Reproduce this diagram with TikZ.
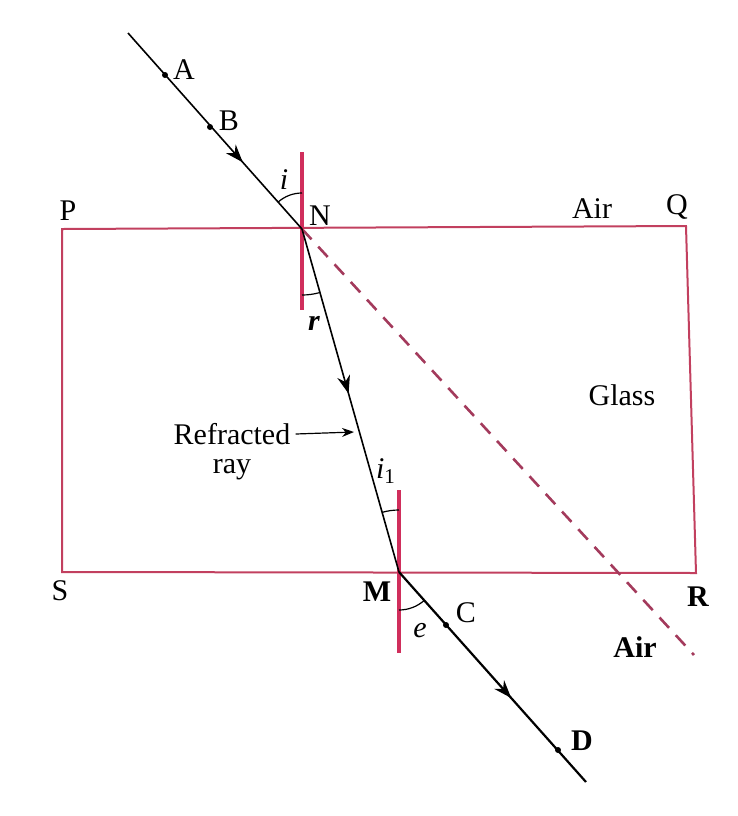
\documentclass[tikz,border=0pt]{standalone}
\usepackage{fontspec}
\setmainfont{Liberation Serif}
\usetikzlibrary{arrows.meta,decorations.markings,angles}
\definecolor{boxred}{HTML}{C2405F}
\definecolor{normred}{HTML}{D02E5C}
\definecolor{dashred}{HTML}{A33A5C}
\begin{document}
\begin{tikzpicture}[x=0.5pt,y=-0.5pt,
  lbl/.style={font=\fontsize{15}{18}\selectfont, inner sep=0pt},
  ray/.style={black, line width=0.8pt},
  normalline/.style={normred, line width=2.4pt},
  midarrow/.style={postaction={decorate}, decoration={markings,
     mark=at position #1 with {\arrow{Stealth[length=9pt,width=6.5pt]}}}},
  dotpt/.style={circle, fill=black, inner sep=0pt, minimum size=3pt},
  anglearc/.style={draw, black, line width=0.6pt}
]
\useasboundingbox (0,0) rectangle (738,816);
% glass slab
\coordinate (P0) at (62,229);
\coordinate (Q0) at (686,226);
\coordinate (R0) at (696,573);
\coordinate (S0) at (62,572);
\draw[boxred, line width=1pt] (P0) -- (Q0) -- (R0) -- (S0) -- cycle;
% key points
\coordinate (Start) at (128,33);
\coordinate (N) at (302,229);
\coordinate (M) at (399,572);
\coordinate (End) at (586,782);
\coordinate (DashEnd) at (694,655);
\coordinate (Ntop) at (302,152);
\coordinate (Nbot) at (302,310);
\coordinate (Mtop) at (399,490);
\coordinate (Mbot) at (399,653);
% dashed continuation
\draw[dashred, line width=1.3pt, dash pattern=on 7pt off 5pt] (N) -- (DashEnd);
% normals
\draw[normalline] (Ntop) -- (Nbot);
\draw[normalline] (Mtop) -- (Mbot);
% rays
\draw[ray, midarrow=0.66] (Start) -- (N);
\draw[ray, midarrow=0.48] (N) -- (M);
\draw[ray, line width=1.1pt, midarrow=0.6] (M) -- (End);
% points on rays
\node[dotpt] (Adot) at (165,75) {};
\node[dotpt] (Bdot) at (210,127) {};
\node[dotpt] (Cdot) at (446,625) {};
\node[dotpt] (Ddot) at (558,750) {};
% angles
\pic[anglearc, angle radius=18pt] {angle = Ntop--N--Start};
\pic[anglearc, angle radius=33pt] {angle = Nbot--N--M};
\pic[anglearc, angle radius=31pt] {angle = Mtop--M--N};
\pic[anglearc, angle radius=19pt] {angle = Mbot--M--End};
% labels
\node[lbl] (A) at (184,70) {A};
\node[lbl] (B) at (229,121) {B};
\node[lbl] (i) at (284,180) {\itshape i};
\node[lbl] (Nl) at (320,216) {N};
\node[lbl] (r) at (314,323) {\bfseries\itshape r};
\node[lbl] (P) at (68,211) {P};
\node[lbl] (Air1) at (592,209) {Air};
\node[lbl] (Q) at (677,207) {Q};
\node[lbl] (Glass) at (622,395) {Glass};
\node[lbl] (Refr) at (232,434) {Refracted};
\node[lbl] (rayl) at (232,470) {ray};
\coordinate (RefrTip) at (354,432);
\draw[black, line width=0.6pt, -{Stealth[length=6pt,width=4.5pt]}] (Refr.east) ++(5,0) coordinate (RefrStart) -- (RefrTip);
\node[lbl] (i1) at (386,471) {\itshape i\textsubscript{\upshape 1}};
\node[lbl] (S) at (60,591) {S};
\node[lbl] (Ml) at (377,592) {\bfseries M};
\node[lbl] (e) at (420,631) {\itshape e};
\node[lbl] (C) at (466,613) {C};
\node[lbl] (R) at (698,597) {\bfseries R};
\node[lbl] (Air2) at (635,647) {\bfseries Air};
\node[lbl] (D) at (582,741) {\bfseries D};
\end{tikzpicture}
\end{document}
